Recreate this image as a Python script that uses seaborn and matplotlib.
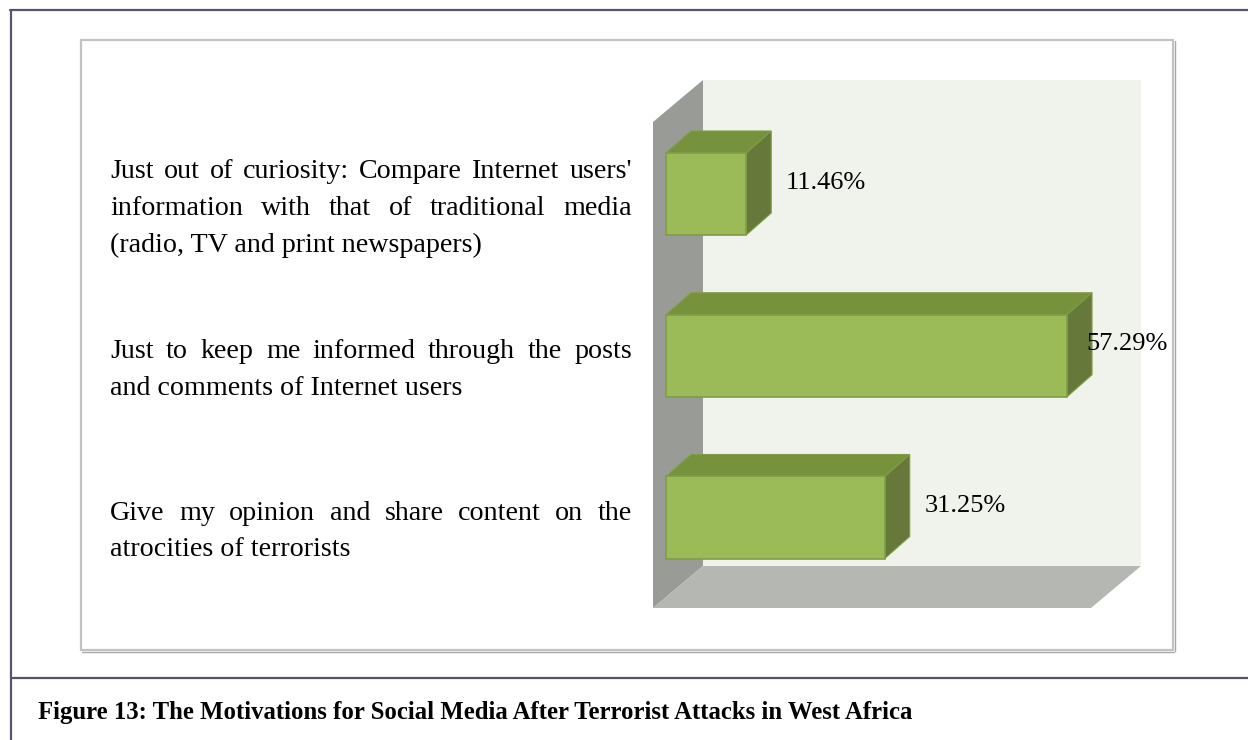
import matplotlib
matplotlib.use("Agg")
import matplotlib.pyplot as plt
import numpy as np
import pandas as pd
import seaborn as sns
from matplotlib.patches import Polygon, Rectangle
from matplotlib.lines import Line2D

# ---- data -------------------------------------------------------------
categories = [
    "Just out of curiosity: Compare Internet users' information with that of traditional media (radio, TV and print newspapers)",
    "Just to keep me informed through the posts and comments of Internet users",
    "Give my opinion and share content on the atrocities of terrorists",
]
label_lines = [
    ["Just out of curiosity: Compare Internet users'",
     "information with that of traditional media",
     "(radio, TV and print newspapers)"],
    ["Just to keep me informed through the posts",
     "and comments of Internet users"],
    ["Give my opinion and share content on the",
     "atrocities of terrorists"],
]
values = [11.46, 57.29, 31.25]
value_labels = ["11.46%", "57.29%", "31.25%"]
caption = "Figure 13: The Motivations for Social Media After Terrorist Attacks in West Africa"

# ---- styling ----------------------------------------------------------
FRONT = "#9bbb59"
TOP = "#77923c"
SIDE = "#66793a"
EDGE = "#7f9e44"
BACK_WALL = "#f0f3eb"
SIDE_WALL = "#999b97"
FLOOR = "#b5b7b2"
FRAME = "#55566c"
SERIF = ["Liberation Serif", "DejaVu Serif"]

sns.set_style("white")
plt.rcParams["font.family"] = SERIF
plt.rcParams["text.color"] = "black"

W, H = 1248, 740
fig = plt.figure(figsize=(W / 100, H / 100), dpi=100)


def px_box(x0, y0, x1, y1):
    return [x0 / W, 1 - y1 / H, (x1 - x0) / W, (y1 - y0) / H]


# page frame and chart box
for xs, ys in [((10, 1248), (10, 10)), ((11, 11), (10, 740)), ((11, 1248), (678, 678))]:
    fig.add_artist(Line2D([x / W for x in xs], [1 - y / H for y in ys],
                          color=FRAME, lw=1.6, zorder=-2))
fig.add_artist(Rectangle((81 / W, 1 - 650 / H), (1173 - 81) / W, (650 - 40) / H,
                         transform=fig.transFigure, facecolor="white",
                         edgecolor="#c2c2c2", lw=1.6, zorder=-1))
fig.add_artist(Line2D([82 / W, 1174 / W], [1 - 651.5 / H] * 2, color="#a8a8a8", lw=1.0, zorder=-1))
fig.add_artist(Line2D([1174.5 / W] * 2, [1 - 41 / H, 1 - 651 / H], color="#a8a8a8", lw=1.0, zorder=-1))

ax = fig.add_axes(px_box(653, 82, 1141, 608))

# ---- walls of the 3-D box (axes coordinates) ---------------------------
xf, yf = (1091 - 653) / 488, (608 - 122) / 526   # front plane extent
dxa, dya = 50 / 488, 42 / 526                    # wall depth
walls = [
    ([(dxa, dya), (xf + dxa, dya), (xf + dxa, yf + dya), (dxa, yf + dya)], BACK_WALL, 0),
    ([(0, 0), (dxa, dya), (dxa, yf + dya), (0, yf)], SIDE_WALL, 1),
    ([(0, 0), (xf, 0), (xf + dxa, dya), (dxa, dya)], FLOOR, 1),
]
for verts, col, z in walls:
    ax.add_patch(Polygon(verts, closed=True, transform=ax.transAxes, facecolor=col,
                         edgecolor="none", zorder=z, clip_on=False))

# ---- bars ---------------------------------------------------------------
df = pd.DataFrame({"motivation": categories, "share": values})
sns.barplot(data=df, x="share", y="motivation", orient="h", color=FRONT,
            saturation=1, width=0.507, edgecolor=EDGE, linewidth=1.2, ax=ax, zorder=4)

ax.set_xlim(-13 / 7, 475 / 7)
ax.set_ylim(414 / 161.75, -112 / 161.75)
ax.axis("off")

# bar depth in data units
dx, dy = 25 / 7, -22 / 161.75
for bar in ax.containers[0]:
    x0, w = bar.get_x(), bar.get_width()
    ytop, ybot = bar.get_y(), bar.get_y() + bar.get_height()
    x1 = x0 + w
    ax.add_patch(Polygon([(x0, ytop), (x1, ytop), (x1 + dx, ytop + dy), (x0 + dx, ytop + dy)],
                         closed=True, facecolor=TOP, edgecolor=EDGE, lw=0.8, zorder=3))
    ax.add_patch(Polygon([(x1, ytop), (x1 + dx, ytop + dy), (x1 + dx, ybot + dy), (x1, ybot)],
                         closed=True, facecolor=SIDE, edgecolor=EDGE, lw=0.8, zorder=3))

# value labels
for i, (v, lab) in enumerate(zip(values, value_labels)):
    ax.text(min(v + 5.7, 60.1), i - 0.07, lab, ha="left", va="center",
            fontsize=19, color="black", zorder=6, clip_on=False)

# ---- justified category labels -----------------------------------------
renderer = fig.canvas.get_renderer()
LEFT, RIGHT = 110, 632
FS = 20.2
LINE = 37


def text_width(s):
    t = fig.text(0, 0, s, fontsize=FS)
    wpx = t.get_window_extent(renderer).width
    t.remove()
    return wpx


for i, lines in enumerate(label_lines):
    cy = ax.transData.transform((0, i))[1] - 14   # display y of block centre
    n = len(lines)
    for j, line in enumerate(lines):
        ypix = cy - (j - (n - 1) / 2) * LINE
        yfig = ypix / H
        if j < n - 1:
            words = line.split(" ")
            widths = [text_width(w_) for w_ in words]
            gap = (RIGHT - LEFT - sum(widths)) / (len(words) - 1)
            xpos = LEFT
            for w_, wd in zip(words, widths):
                fig.text(xpos / W, yfig, w_, fontsize=FS, ha="left", va="center")
                xpos += wd + gap
        else:
            fig.text(LEFT / W, yfig, line, fontsize=FS, ha="left", va="center")

# ---- caption --------------------------------------------------------------
fig.text(38 / W, 1 - 713 / H, caption, fontsize=17.8, fontweight="bold",
         ha="left", va="center")

fig.savefig("out.png", dpi=100)
